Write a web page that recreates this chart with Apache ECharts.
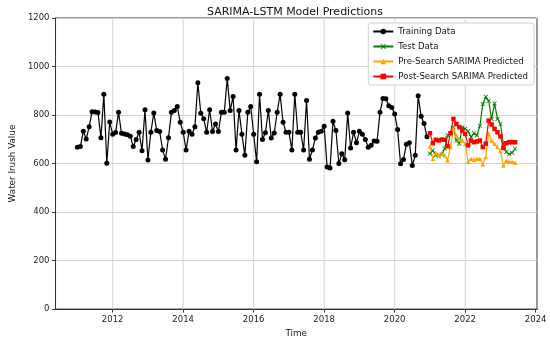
<!DOCTYPE html>
<html>
<head>
<meta charset="utf-8">
<script src="https://cdn.jsdelivr.net/npm/echarts@6/dist/echarts.min.js"></script>
<style>html,body{margin:0;padding:0;background:#fff}#c{width:550px;height:343px}</style>
</head>
<body>
<div id="c"></div>
<script>
// Monthly series, training from Jan 2011, test/predictions from Jan 2021
const trainStart = 2011;
const testStart = 2021;
const trainingData = [667,670,733,701,752,814,813,810,706,886,601,771,
  721,728,811,725,722,719,713,670,699,729,653,822,
  615,729,808,736,732,656,618,706,811,819,835,770,
  729,656,733,721,752,933,807,785,729,822,732,763,
  732,811,811,951,819,876,656,819,721,634,811,835,
  721,607,886,699,727,819,705,726,811,886,770,729,
  729,656,886,729,729,656,860,618,656,705,729,733,
  754,586,582,774,736,600,640,616,808,664,729,686,
  733,721,699,667,675,693,692,811,868,867,838,831,
  804,740,599,617,680,686,592,634,879,795,765,710];
const testData = [641,654,634,630,637,661,716,725,750,695,682,750,
  743,733,709,725,716,756,845,875,858,784,848,784,763,682,648,638,645,661];
const preSearch = [671,620,644,634,641,634,614,668,743,716,698,695,
  682,607,620,616,620,620,597,627,725,695,682,668,652,592,612,607,607,603];
const postSearch = [725,684,698,695,699,698,671,725,784,763,750,736,
  722,675,695,688,691,695,668,682,777,761,743,729,712,665,684,688,688,688];
const xTicks = [2012,2014,2016,2018,2020,2022,2024];
const yTicks = [0,200,400,600,800,1000,1200];

const toPts = (start, arr) => arr.map((v, i) => [start + i / 12, v]);
const nTotal = trainingData.length + testData.length;
const span = (nTotal - 1) / 12;
const xMin = trainStart - 0.05 * span;
const xMax = trainStart + span + 0.05 * span;
const yMin = yTicks[0], yMax = yTicks[yTicks.length - 1];

const font = 'DejaVu Sans';
const xMark = 'path://M0,1.2 L1.2,0 L5,3.8 L8.8,0 L10,1.2 L6.2,5 L10,8.8 L8.8,10 L5,6.2 L1.2,10 L0,8.8 L3.8,5 Z';

const chart = echarts.init(document.getElementById('c'), null, {renderer: 'canvas'});
chart.setOption({
  animation: false,
  backgroundColor: '#fff',
  title: {
    text: 'SARIMA-LSTM Model Predictions',
    left: 290, top: 2, textAlign: 'center',
    textStyle: {fontFamily: font, fontSize: 11, fontWeight: 'normal', color: '#111'}
  },
  legend: {
    orient: 'vertical',
    right: 16, top: 23,
    padding: [4, 6, 4, 4],
    itemWidth: 20, itemHeight: 7, itemGap: 6,
    backgroundColor: '#fff',
    borderColor: '#d0d0d0', borderWidth: 1, borderRadius: 3,
    textStyle: {fontFamily: font, fontSize: 8.6, color: '#111'},
    data: ['Training Data', 'Test Data', 'Pre-Search SARIMA Predicted', 'Post-Search SARIMA Predicted']
  },
  grid: {left: 44, right: 13, top: 18, bottom: 31, show: true, borderColor: '#333', borderWidth: 1},
  xAxis: {
    type: 'value', min: xMin, max: xMax,
    name: 'Time', nameLocation: 'middle', nameGap: 19,
    nameTextStyle: {fontFamily: font, fontSize: 8.8, color: '#111'},
    axisLine: {show: true, lineStyle: {color: '#333', width: 1}},
    axisTick: {show: true, length: 3.5, customValues: xTicks, lineStyle: {color: '#333'}},
    axisLabel: {customValues: xTicks, margin: 6, fontFamily: font, fontSize: 8.5, color: '#222',
      formatter: v => String(Math.round(v))},
    splitLine: {show: false}
  },
  yAxis: {
    type: 'value', min: yMin, max: yMax, interval: 200,
    name: 'Water Irush Value', nameLocation: 'middle', nameGap: 36,
    nameTextStyle: {fontFamily: font, fontSize: 8.8, color: '#111'},
    axisLine: {show: true, lineStyle: {color: '#333', width: 1}},
    axisTick: {show: true, length: 3.5, lineStyle: {color: '#333'}},
    axisLabel: {margin: 6, fontFamily: font, fontSize: 8.5, color: '#222',
      formatter: v => String(v)},
    splitLine: {show: true, lineStyle: {color: '#d3d3d3', width: 1}}
  },
  series: [
    {
      type: 'custom', silent: true, z: 1, clip: false,
      data: xTicks.slice(0, -1).map(v => [v, yMin, yMax]),
      encode: {x: 0, y: [1, 2]},
      renderItem: (params, api) => {
        const p0 = api.coord([api.value(0), api.value(1)]);
        const p1 = api.coord([api.value(0), api.value(2)]);
        return {type: 'line', shape: {x1: p0[0], y1: p0[1], x2: p1[0], y2: p1[1]},
          style: {stroke: '#d3d3d3', lineWidth: 1}};
      }
    },
    {
      name: 'Training Data', type: 'line', data: toPts(trainStart, trainingData),
      symbol: 'circle', symbolSize: 5, showAllSymbol: true, z: 3,
      lineStyle: {color: '#000', width: 1.2}, itemStyle: {color: '#000'}
    },
    {
      name: 'Test Data', type: 'line', data: toPts(testStart, testData),
      symbol: xMark, symbolSize: 4.5, showAllSymbol: true, z: 3,
      lineStyle: {color: '#008000', width: 1.2}, itemStyle: {color: '#008000'}
    },
    {
      name: 'Pre-Search SARIMA Predicted', type: 'line', data: toPts(testStart, preSearch),
      symbol: 'triangle', symbolSize: 4.5, showAllSymbol: true, z: 3,
      lineStyle: {color: '#FFA500', width: 1.2}, itemStyle: {color: '#FFA500'}
    },
    {
      name: 'Post-Search SARIMA Predicted', type: 'line', data: toPts(testStart, postSearch),
      symbol: 'rect', symbolSize: 4.5, showAllSymbol: true, z: 4,
      lineStyle: {color: '#FF0000', width: 1.2}, itemStyle: {color: '#FF0000'}
    }
  ]
});
</script>
</body>
</html>
